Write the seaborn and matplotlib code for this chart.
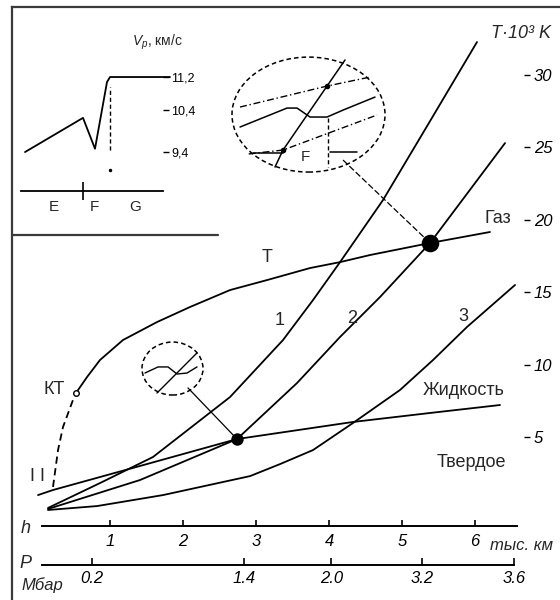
import numpy as np
import pandas as pd
import matplotlib.pyplot as plt
from matplotlib.patches import Ellipse
import seaborn as sns

# глубина (тыс. км) и температура (10^3 K)
depth_kt = [0.219, 0.288, 0.356, 0.493, 0.534]
temp_kt = [1.55, 4.10, 5.69, 7.56, 8.04]
depth_t = [0.534, 0.685, 0.863, 1.178, 1.644, 2.096, 2.644, 3.151, 3.740, 4.151, 4.562, 5.384, 6.205]
temp_t = [8.04, 9.14, 10.32, 11.70, 12.94, 13.98, 15.15, 15.84, 16.67, 17.08, 17.57, 18.40, 19.16]

depth_1 = [0.151, 0.863, 1.589, 2.644, 3.370, 3.781, 4.151, 4.740, 5.384, 6.027]
temp_1 = [0.10, 1.82, 3.62, 7.76, 11.70, 14.46, 17.08, 21.37, 26.82, 32.28]
depth_2 = [0.151, 1.411, 2.740, 3.562, 4.151, 4.699, 5.384, 6.411]
temp_2 = [0.03, 2.03, 4.86, 8.73, 11.91, 14.67, 18.40, 25.30]
depth_3 = [0.151, 0.822, 1.726, 2.918, 3.329, 3.781, 4.329, 4.973, 5.425, 5.890, 6.548]
temp_3 = [-0.04, 0.23, 0.99, 2.30, 3.13, 4.10, 5.97, 8.25, 10.32, 12.60, 15.50]

depth_liq = [0.014, 0.219, 1.411, 2.740, 4.329, 5.384, 6.342]
temp_liq = [0.99, 1.34, 3.00, 4.86, 6.04, 6.66, 7.21]

dot_depth = [2.740, 5.384]
dot_temp = [4.86, 18.40]

# шкалы
h_ticks = [1, 2, 3, 4, 5, 6]
p_depth = [0.748, 2.84, 4.03, 5.28, 6.53]
p_labels = ['0.2', '1.4', '2.0', '3.2', '3.6']
t_ticks = [5, 10, 15, 20, 25, 30]
t_labels = ['5', '10', '15', '20', '25', '30']

# врезка: скорость Vp
v_x = [4.13, 4.71, 4.83, 4.95, 4.98, 5.58]
v_y = [9.40, 10.22, 9.48, 11.08, 11.2, 11.2]
v_ticks = [9.4, 10.4, 11.2]
v_labels = ['9,4', '10,4', '11,2']
layer_pos = [4.42, 4.82, 5.23]
layer_names = ['E', 'F', 'G']

# детали в кружках (лупы)
big_wave_x = [2.781, 3.425, 3.562, 3.740, 3.973, 4.192, 4.630]
big_wave_y = [26.41, 27.72, 27.72, 27.10, 27.10, 27.58, 28.48]
big_steep_x = [4.219, 3.973, 3.671, 3.370, 3.260]
big_steep_y = [31.04, 29.24, 27.03, 24.82, 23.65]
big_dd1_x = [2.781, 3.973, 4.562]
big_dd1_y = [27.79, 29.24, 29.86]
big_dd2_x = [2.90, 3.370, 4.658]
big_dd2_y = [24.55, 24.82, 27.24]
small_wave_x = [1.479, 1.658, 1.795, 1.918, 2.055, 2.192]
small_wave_y = [9.42, 9.84, 9.84, 9.35, 9.42, 9.84]
small_diag_x = [1.644, 2.192]
small_diag_y = [8.04, 10.81]

sns.set_theme(style='white')
plt.rcParams['font.family'] = ['Liberation Sans', 'DejaVu Sans']
plt.rcParams['mathtext.fontset'] = 'custom'
plt.rcParams['mathtext.it'] = 'Liberation Sans:italic'
plt.rcParams['mathtext.rm'] = 'Liberation Sans'

frame_c = '#3a3a3a'
fig = plt.figure(figsize=(5.6, 6.0), dpi=100)
ax = fig.add_axes([12 / 560, 0, 548 / 560, 593 / 600])
ax.set_xlim(-0.3425, 7.164)
ax.set_ylim(-6.257, 34.70)
ax.set_xticks([])
ax.set_yticks([])
for s in ['right', 'bottom']:
    ax.spines[s].set_visible(False)
for s in ['left', 'top']:
    ax.spines[s].set_color(frame_c)
    ax.spines[s].set_linewidth(1.6)
ax.axhline(18.95, xmin=0, xmax=206 / 548, color=frame_c, lw=1.6)


def curve(x, y, **kw):
    kw.setdefault('linewidth', 1.3)
    sns.lineplot(x=x, y=y, ax=ax, sort=False, estimator=None, color='black', **kw)


curve(depth_kt, temp_kt, linestyle=(0, (4, 2.5)))
curve(depth_t, temp_t)
curve(depth_1, temp_1)
curve(depth_2, temp_2)
curve(depth_3, temp_3)
curve(depth_liq, temp_liq)
ax.plot(depth_kt[-1], temp_kt[-1], 'o', ms=4, mfc='white', mec='black', mew=1)

sns.scatterplot(x=dot_depth[:1], y=dot_temp[:1], s=80, color='black', linewidth=0, ax=ax, zorder=5)
sns.scatterplot(x=dot_depth[1:], y=dot_temp[1:], s=160, color='black', linewidth=0, ax=ax, zorder=5)

# лупы
ax.add_patch(Ellipse((1.856, 9.73), 0.836, 3.66, fill=False, ls=(0, (3, 2)), lw=1.1, color='black'))
ax.add_patch(Ellipse((3.719, 27.27), 2.096, 7.94, fill=False, ls=(0, (3, 2)), lw=1.1, color='black'))
ax.plot([2.068, dot_depth[0]], [8.39, dot_temp[0]], color='black', lw=0.9)
ax.plot([4.192, dot_depth[1]], [24.13, dot_temp[1]], color='black', lw=0.9, ls=(0, (5, 2)))
curve(small_wave_x, small_wave_y, linewidth=1.0)
curve(small_diag_x, small_diag_y, linewidth=1.0)
curve(big_wave_x, big_wave_y, linewidth=1.1)
curve(big_steep_x, big_steep_y, linewidth=1.1)
curve(big_dd1_x, big_dd1_y, linewidth=1.0, linestyle=(0, (5, 2, 1, 2)))
curve(big_dd2_x, big_dd2_y, linewidth=1.0, linestyle=(0, (5, 2, 1, 2)))
ax.plot([2.959, 3.370], [24.61, 24.61], color='black', lw=1.1)
ax.plot([4.014, 4.384], [24.68, 24.68], color='black', lw=1.1)
ax.plot([3.986, 3.986], [27.03, 23.65], color='black', lw=1.0, ls=(0, (3, 2)))
ax.plot([3.973, 3.370], [29.24, 24.82], 'o', color='black', ms=3)
ax.text(3.671, 24.34, 'F', fontsize=11, ha='center', va='center')

# подписи
lab = dict(fontsize=13, ha='center', va='center')
ax.text(3.151, 17.43, 'T', **lab)
ax.text(3.329, 13.08, '1', **lab)
ax.text(4.315, 13.22, '2', **lab)
ax.text(5.836, 13.29, '3', **lab)
ax.text(0.233, 8.25, 'КТ', **lab)
ax.text(0.0, 2.24, 'I I', **lab)
ax.text(6.315, 20.06, 'Газ', **lab)
ax.text(5.849, 8.18, 'Жидкость', **lab)
ax.text(5.945, 3.27, 'Твердое', **lab)
ax.text(6.630, 32.9, 'T·10³ K', fontsize=13, fontstyle='italic', ha='center', va='center')
ax.text(-0.151, -1.30, 'h', fontsize=13, fontstyle='italic', ha='center', va='center')
ax.text(-0.164, -3.75, 'P', fontsize=13, fontstyle='italic', ha='center', va='center')
ax.text(0.068, -5.21, 'Мбар', fontsize=12, fontstyle='italic', ha='center', va='center')
ax.text(6.205, -2.46, 'тыс. км', fontsize=12, fontstyle='italic', ha='left', va='center')

# ось глубин
sec_h = ax.secondary_xaxis((600 - 526) / 593)
sec_h.spines['bottom'].set_bounds(0.07, 6.57)
sec_h.spines['bottom'].set_linewidth(1.4)
sec_h.spines['bottom'].set_color('black')
sec_h.set_ticks(h_ticks, labels=[str(t) for t in h_ticks], fontsize=12, fontstyle='italic')
sec_h.tick_params(axis='x', bottom=True, direction='in', length=4, width=1.2, pad=6, colors='black')

# ось давлений
sec_p = ax.secondary_xaxis((600 - 565) / 593)
sec_p.spines['bottom'].set_bounds(0.07, 6.53)
sec_p.spines['bottom'].set_linewidth(1.4)
sec_p.spines['bottom'].set_color('black')
sec_p.set_ticks(p_depth, labels=p_labels, fontsize=12, fontstyle='italic')
sec_p.tick_params(axis='x', bottom=True, direction='in', length=5, width=1.2, pad=4, colors='black')

# ось температур
sec_t = ax.secondary_yaxis(512 / 548)
sec_t.spines['right'].set_visible(False)
sec_t.set_ticks(t_ticks, labels=t_labels, fontsize=12, fontstyle='italic')
sec_t.tick_params(axis='y', right=True, direction='out', length=4, width=1.0, pad=3, colors='black')

# врезка
ax_in = fig.add_axes([12 / 560, 365 / 600, 151 / 560, 228 / 600])
ax_in.set_xlim(4.0, 5.51)
ax_in.set_ylim(7.41, 12.88)
ax_in.patch.set_alpha(0)
for s in ['top', 'left', 'right']:
    ax_in.spines[s].set_visible(False)
ax_in.spines['bottom'].set_position(('data', 8.46))
ax_in.spines['bottom'].set_bounds(4.09, 5.51)
ax_in.spines['bottom'].set_color('black')
ax_in.spines['bottom'].set_linewidth(1.3)
sns.lineplot(x=v_x, y=v_y, ax=ax_in, sort=False, estimator=None, color='black', linewidth=1.3)
for ln in ax_in.get_lines():
    ln.set_clip_on(False)
ax_in.vlines(4.98, 9.45, 10.96, color='black', lw=1.0, ls=(0, (3, 2)))
ax_in.plot(4.98, 8.97, 'o', color='black', ms=1.5)
ax_in.set_xticks([4.71])
ax_in.set_xticklabels([''])
ax_in.tick_params(axis='x', which='major', bottom=True, direction='inout', length=13, width=1.2, colors='black')
ax_in.set_xticks(layer_pos, minor=True)
ax_in.set_xticklabels(layer_names, minor=True, fontsize=11)
ax_in.tick_params(axis='x', which='minor', bottom=True, length=0, pad=6)
ax_in.yaxis.tick_right()
ax_in.set_yticks(v_ticks)
ax_in.set_yticklabels(v_labels, fontsize=9)
ax_in.tick_params(axis='y', right=True, direction='out', length=4, width=1.0, pad=2, colors='black')
ax_in.text(5.45, 12.04, '$V_p$, км/с', fontsize=10, ha='center', va='center')

fig.savefig('out.png', dpi=100)
